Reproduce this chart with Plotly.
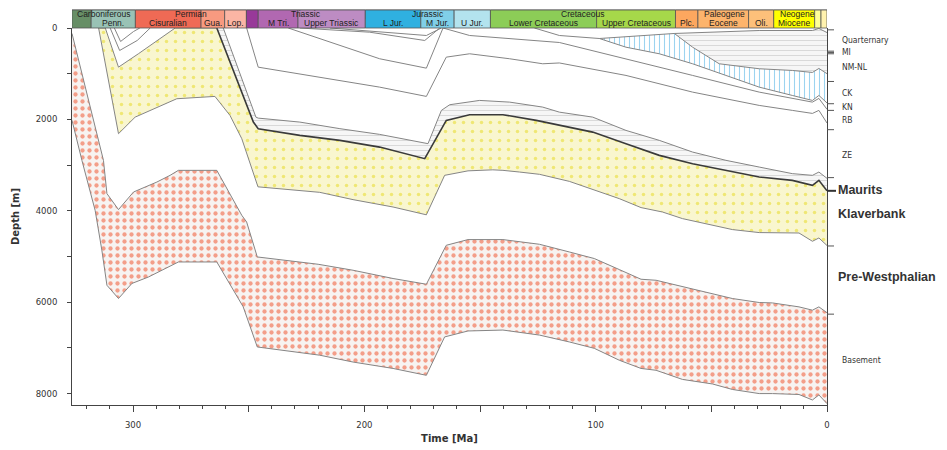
import plotly.graph_objects as go

# ---------------- data: horizons (age in Ma, depth in m) ----------------
basement_bottom_age = [326.4, 322.1, 316.4, 313.5, 311.3, 306.3, 300.5, 293.4, 280.4, 263.8, 252.4, 246.3, 219.3, 204.9, 187.6, 173.2, 165.3, 155.2, 140.1, 124.3, 111.4, 100.6, 89.8, 80.4, 73.9, 62.5, 49.5, 40.9, 29.3, 23.6, 12.1, 6.3, 3.5, 0]
basement_bottom_dep = [2020, 2900, 3990, 4860, 5630, 5920, 5590, 5450, 5120, 5120, 6100, 6980, 7160, 7310, 7450, 7600, 6760, 6630, 6610, 6720, 6870, 7010, 7270, 7450, 7490, 7690, 7790, 7910, 8000, 8000, 8020, 8140, 8030, 8220]

basement_top_age = [326.4, 312.8, 311.3, 306.3, 299.8, 289.7, 284.0, 280.4, 263.8, 253.0, 250.9, 246.3, 220.0, 204.9, 187.6, 173.2, 164.6, 155.2, 140.1, 124.3, 111.4, 100.6, 89.8, 80.4, 73.9, 61.0, 49.5, 40.9, 29.3, 23.6, 12.1, 6.3, 3.5, 0]
basement_top_dep = [120, 2896, 3624, 3974, 3589, 3371, 3224, 3115, 3115, 4099, 4245, 5010, 5170, 5301, 5482, 5607, 4755, 4630, 4630, 4733, 4901, 5045, 5286, 5498, 5520, 5679, 5810, 5920, 6007, 6016, 6103, 6175, 6103, 6230]

klaverbank_base_age = [314.9, 306.3, 299.1, 281.1, 264.6, 258.1, 253.0, 246.0, 219.3, 204.9, 187.6, 173.2, 165.3, 155.2, 144.5, 140.1, 132.9, 124.3, 111.4, 100.6, 89.8, 80.4, 71.1, 62.5, 49.5, 40.9, 29.3, 12.1, 6.3, 3.5, 0]
klaverbank_base_dep = [0, 2313, 1950, 1548, 1497, 1913, 2422, 3476, 3596, 3756, 3917, 4088, 3224, 3126, 3104, 3115, 3152, 3202, 3356, 3537, 3734, 3930, 4027, 4171, 4317, 4411, 4477, 4486, 4667, 4595, 4760]

klaverbank_top_age = [314.9, 312.0, 306.3, 297.7, 281.8, 263.8, 248.0, 245.9, 227.9, 210.6, 193.4, 173.9, 164.6, 154.5, 140.1, 125.7, 115.7, 101.3, 86.9, 72.5, 58.1, 43.7, 29.3, 15.0, 6.3, 3.5, 0]
klaverbank_top_dep = [0, 0, 857, 564, 0, 0, 2059, 2203, 2350, 2459, 2606, 2859, 2022, 1897, 1897, 2022, 2131, 2278, 2531, 2787, 2969, 3115, 3261, 3334, 3443, 3334, 3563]

maurits_top_age = [261.0, 246.9, 245.9, 227.9, 210.6, 193.4, 172.5, 166.7, 163.1, 150.2, 137.2, 122.9, 115.7, 101.3, 86.9, 72.5, 58.1, 43.7, 29.3, 15.0, 6.3, 3.5, 0]
maurits_top_dep = [0, 1950, 1972, 2059, 2203, 2328, 2531, 1803, 1679, 1585, 1622, 1731, 1841, 1950, 2241, 2459, 2715, 2896, 3043, 3187, 3224, 3152, 3290]

ze_top_age = [250.9, 245.9, 193.4, 173.2, 164.6, 154.5, 137.2, 122.9, 115.7, 86.9, 58.1, 29.3, 15.0, 6.3, 3.5, 0]
ze_top_dep = [0, 857, 1294, 1497, 638, 564, 673, 783, 765, 1038, 1403, 1694, 1803, 1869, 1803, 2080]

trias_line_age = [232.9, 193.4, 173.2, 166.0]
trias_line_dep = [0, 673, 879, 0]

jur_line1_age = [214.9, 173.2, 166.7]
jur_line1_dep = [0, 164, 0]
jur_line2_age = [227.9, 197.7, 173.9, 167.4]
jur_line2_dep = [0, 92, 273, 0]

notch_line1_age = [309.9, 305.8, 298.2, 292.6]
notch_line1_dep = [0, 492, 273, 0]
notch_line2_age = [308.1, 305.4, 299.8, 297.1]
notch_line2_dep = [0, 295, 77, 0]

rb_top_age = [166.0, 154.5, 115.7, 86.9, 58.1, 29.3, 15.0, 6.3, 3.5, 0]
rb_top_dep = [0, 164, 317, 673, 1038, 1403, 1548, 1622, 1541, 1780]

kn_top_age = [126.5, 115.7, 98.4, 86.9, 72.5, 58.1, 43.7, 29.3, 15.0, 6.3, 3.5, 0]
kn_top_dep = [0, 164, 230, 420, 564, 783, 1038, 1294, 1476, 1585, 1476, 1640]

ck_top_age = [98.4, 81.1, 66.0, 58.1, 46.6, 29.3, 15.0, 6.3, 3.5, 0]
ck_top_dep = [230, 164, 120, 420, 783, 892, 929, 973, 885, 1000]

nl_top_age = [66.0, 29.3, 6.3, 3.5, 0]
nl_top_dep = [120, 55, 55, 10, 100]

# right-hand formation labels and present-day boundary depths
formation_names = ["Quarternary", "MI", "NM-NL", "CK", "KN", "RB", "ZE", "Maurits", "Klaverbank", "Pre-Westphalian", "Basement"]
formation_label_depth = [273, 535, 864, 1432, 1738, 2022, 2787, 3553, 4077, 5454, 7268]
boundary_depths = [40, 507, 535, 564, 1170, 1657, 1803, 2225, 3274, 3563, 4770, 6262]

# geological time scale
period_names = ["Carboniferous", "Permian", "Triassic", "Jurassic", "Cretaceous", "Paleogene", "Neogene", ""]
period_bounds = [359.2, 299.0, 251.0, 199.6, 145.5, 65.5, 23.03, 2.59, 0]
period_colors = ["#67A599", "#F04A30", "#8A3A9E", "#34B2E0", "#7FC64E", "#FD9A52", "#FFE619", "#F9F97F"]
epoch_names = ["", "Penn.", "Cisuralian", "Gua.", "Lop.", "", "M Tri.", "Upper Triassic", "L Jur.", "M Jur.", "U Jur.", "Lower Cretaceous", "Upper Cretaceous", "Plc.", "Eocene", "Oli.", "Miocene", "", ""]
epoch_bounds = [359.2, 318.1, 299.0, 270.6, 260.4, 251.0, 245.9, 228.7, 199.6, 175.6, 161.2, 145.5, 99.6, 65.5, 55.8, 33.9, 23.03, 5.33, 2.59, 0]
epoch_colors = ["#678F66", "#99C2B5", "#EF6A55", "#F89A80", "#FBB5A4", "#983999", "#B168B1", "#BD8CC3", "#2FB0E0", "#80CFE8", "#B3E3EE", "#8CCD57", "#A6D84A", "#FDA75F", "#FDB46C", "#FDC07A", "#FFFF00", "#FFFF99", "#FFF2AE"]

X_MAX = 326.4
Y_MAX = 8250

fig = go.Figure()


def sub(age, dep, cutoff):
    a, d = [], []
    for x, y in zip(age, dep):
        if x <= cutoff + 1e-9:
            a.append(x)
            d.append(y)
    return a, d


def add_fill(top_a, top_d, bot_a, bot_d, shape, fg, bg, size, solidity):
    xs = list(top_a) + list(bot_a)[::-1]
    ys = list(top_d) + list(bot_d)[::-1]
    fig.add_trace(go.Scatter(
        x=xs, y=ys, mode="lines", fill="toself", fillcolor=bg,
        fillpattern=dict(shape=shape, fgcolor=fg, bgcolor=bg, size=size, solidity=solidity),
        line=dict(width=0), hoverinfo="skip", showlegend=False))


# basement (red crosses)
add_fill(basement_top_age, basement_top_dep, basement_bottom_age, basement_bottom_dep,
         ".", "#F04A22", "#F7F3F1", 7, 0.3)
# Klaverbank (yellow)
add_fill(klaverbank_top_age, klaverbank_top_dep, klaverbank_base_age, klaverbank_base_dep,
         ".", "#E6D81A", "#F9F6CF", 9, 0.12)
# Maurits (grey dashes)
mb_a, mb_d = sub(klaverbank_top_age, klaverbank_top_dep, 263.8)
add_fill(maurits_top_age, maurits_top_dep, mb_a, mb_d, "-", "#B5B5B5", "#F6F6F6", 5, 0.18)
# CK (blue)
cb_a, cb_d = sub(kn_top_age, kn_top_dep, 98.4)
add_fill(ck_top_age, ck_top_dep, cb_a, cb_d, "|", "#3AAAE2", "#FFFFFF", 5, 0.22)
# NM-NL (grey dashes)
nb_a, nb_d = sub(ck_top_age, ck_top_dep, 66.0)
add_fill(nl_top_age, nl_top_dep, nb_a, nb_d, "-", "#B5B5B5", "#F6F6F6", 5, 0.18)

# horizon lines
G = "#858585"
lines = [
    (basement_bottom_age, basement_bottom_dep, G, 1),
    (basement_top_age, basement_top_dep, G, 1),
    (klaverbank_base_age, klaverbank_base_dep, G, 1),
    (maurits_top_age, maurits_top_dep, G, 1),
    (ze_top_age, ze_top_dep, G, 1),
    (trias_line_age, trias_line_dep, G, 1),
    (jur_line1_age, jur_line1_dep, G, 1),
    (jur_line2_age, jur_line2_dep, G, 1),
    (notch_line1_age, notch_line1_dep, G, 1),
    (notch_line2_age, notch_line2_dep, G, 1),
    (rb_top_age, rb_top_dep, G, 1),
    (kn_top_age, kn_top_dep, G, 1),
    (ck_top_age, ck_top_dep, G, 1),
    (nl_top_age, nl_top_dep, G, 1),
]
for a, d, c, w in lines:
    fig.add_trace(go.Scatter(x=a, y=d, mode="lines", line=dict(color=c, width=w),
                             hoverinfo="skip", showlegend=False))
# Klaverbank top: grey through the early notch, dark afterwards
kt_early_a = [a for a in klaverbank_top_age if a >= 263.8]
kt_early_d = klaverbank_top_dep[:len(kt_early_a)]
kt_late_a, kt_late_d = sub(klaverbank_top_age, klaverbank_top_dep, 263.8)
fig.add_trace(go.Scatter(x=kt_early_a, y=kt_early_d, mode="lines", line=dict(color=G, width=1),
                         hoverinfo="skip", showlegend=False))
fig.add_trace(go.Scatter(x=kt_late_a, y=kt_late_d, mode="lines", line=dict(color="#3A3A3A", width=1.6),
                         hoverinfo="skip", showlegend=False))

# geological time-scale band above the plot
PH = 377.5  # plot height in px
def py(px_from_top):
    return 1 + px_from_top / PH

BAND_FONT = dict(family="Liberation Sans", size=8.5, color="#222")
shapes = []
annotations = []
for i, name in enumerate(period_names):
    x0 = min(period_bounds[i], X_MAX)
    x1 = period_bounds[i + 1]
    shapes.append(dict(type="rect", xref="x", yref="paper", x0=x0, x1=x1, y0=py(9.5), y1=py(18),
                       fillcolor=period_colors[i], line=dict(color="#555555", width=0.8), layer="above"))
    if name:
        annotations.append(dict(x=(x0 + x1) / 2, y=py(14), xref="x", yref="paper", text=name,
                                showarrow=False, yanchor="middle", xanchor="center", font=BAND_FONT))
for i, name in enumerate(epoch_names):
    x0 = min(epoch_bounds[i], X_MAX)
    x1 = epoch_bounds[i + 1]
    shapes.append(dict(type="rect", xref="x", yref="paper", x0=x0, x1=x1, y0=1.0, y1=py(18),
                       fillcolor=epoch_colors[i], line=dict(color="#555555", width=0.8), layer="above"))
    if name:
        annotations.append(dict(x=(x0 + x1) / 2, y=py(4.8), xref="x", yref="paper", text=name,
                                showarrow=False, yanchor="middle", xanchor="center", font=BAND_FONT))

# right-hand boundary ticks
for d in boundary_depths:
    thick = (d == 3563)
    shapes.append(dict(type="line", xref="paper", yref="y", x0=1.0, x1=1.0 + (9 if thick else 7) / 755,
                       y0=d, y1=d, line=dict(color="#333" if thick else "#555", width=2 if thick else 1)))

# right-hand labels
for name, d in zip(formation_names, formation_label_depth):
    bold = name in ("Maurits", "Klaverbank", "Pre-Westphalian")
    annotations.append(dict(x=(840 - 72) / 755 if not bold else (836 - 72) / 755, y=d, xref="paper", yref="y",
                            text=f"<b>{name}</b>" if bold else name, showarrow=False, xanchor="left",
                            yanchor="middle",
                            font=dict(family="Liberation Sans" if bold else "DejaVu Sans Condensed, DejaVu Sans",
                                      size=12.5 if bold else 8.5, color="#333")))

# page body has an 8 px margin: compensate so the plot lands where the reference has it
fig.update_layout(
    width=939, height=442,
    margin=dict(l=64, r=120, t=19.5, b=45, autoexpand=False),
    paper_bgcolor="white", plot_bgcolor="white",
    shapes=shapes, annotations=annotations,
    font=dict(family="DejaVu Sans", size=9, color="#333"),
    xaxis=dict(range=[X_MAX, 0], tickvals=[0, 50, 100, 150, 200, 250, 300],
               ticktext=["0", "", "100", "", "200", "", "300"], automargin=False,
               ticks="outside", ticklen=6, tickcolor="#444", showgrid=False, zeroline=False,
               showline=True, linecolor="#444", linewidth=1, ticklabelstandoff=6,
               minor=dict(dtick=10, ticks="outside", ticklen=3, tickcolor="#444", showgrid=False),
               title=dict(text="<b>Time [Ma]</b>", font=dict(size=10, family="DejaVu Sans", color="#333"), standoff=5),
               tickfont=dict(size=8.5)),
    yaxis=dict(range=[Y_MAX, 0], tickvals=[0, 1000, 2000, 3000, 4000, 5000, 6000, 7000, 8000],
               ticktext=["0", "", "2000", "", "4000", "", "6000", "", "8000"], automargin=False,
               ticks="outside", ticklen=4, tickcolor="#444", showgrid=False, zeroline=False,
               showline=True, linecolor="#444", linewidth=1, mirror=True, ticklabelstandoff=8,
               title=dict(text="<b>Depth [m]</b>", font=dict(size=10, family="DejaVu Sans", color="#333"), standoff=14),
               tickfont=dict(size=8.5)),
)

fig.write_html("out.html")
